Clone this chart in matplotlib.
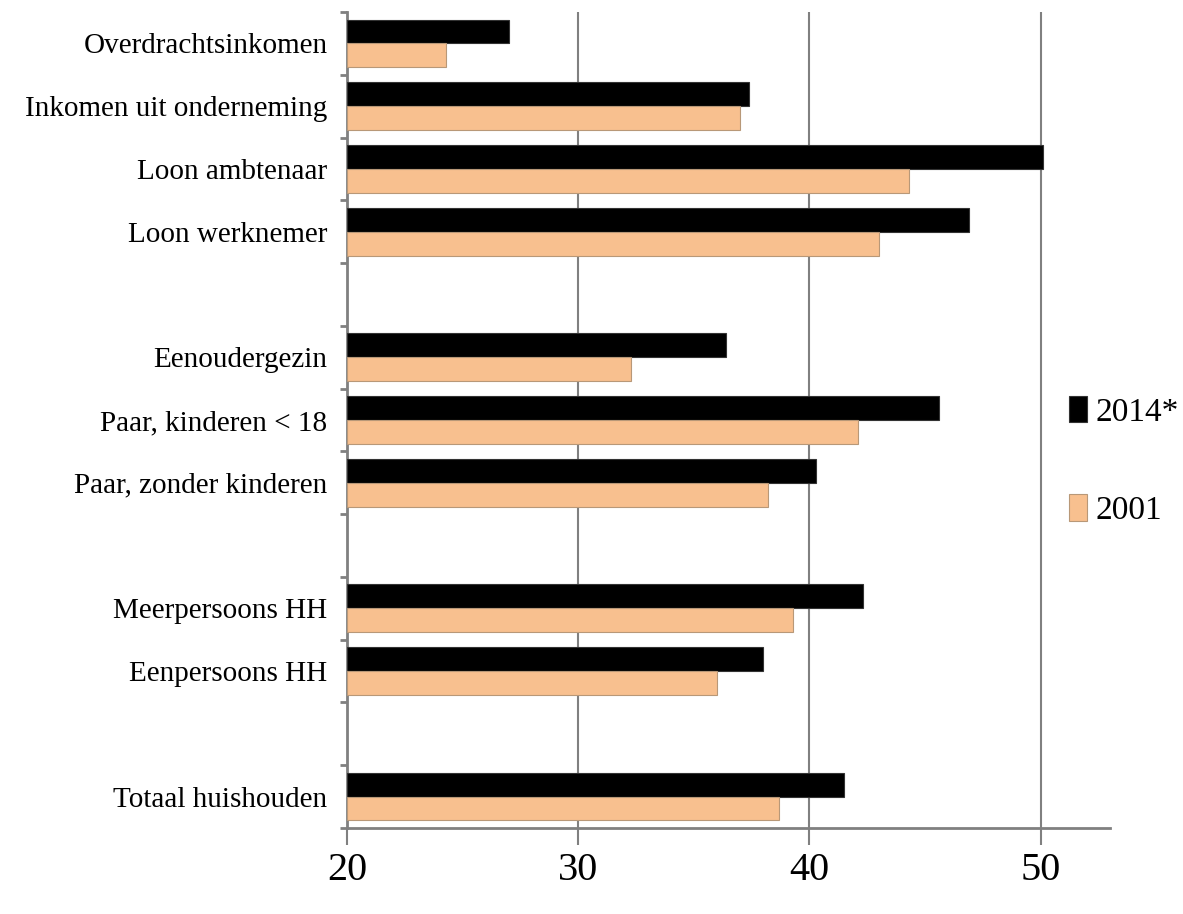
import matplotlib.pyplot as plt
import numpy as np

# %% Data (top to bottom, None = empty slot between groups)
categories = ["Overdrachtsinkomen", "Inkomen uit onderneming", "Loon ambtenaar", "Loon werknemer",
              None,
              "Eenoudergezin", "Paar, kinderen < 18", "Paar, zonder kinderen",
              None,
              "Meerpersoons HH", "Eenpersoons HH",
              None,
              "Totaal huishouden"]
val_2014 = [27.0, 37.4, 50.1, 46.9, None, 36.4, 45.6, 40.3, None, 42.3, 38.0, None, 41.5]
val_2001 = [24.3, 37.0, 44.3, 43.0, None, 32.3, 42.1, 38.2, None, 39.3, 36.0, None, 38.7]
xticks = [20, 30, 40, 50]

plt.rcParams["font.family"] = "Liberation Serif"

fig = plt.figure(figsize=(11.83, 9.14), dpi=100)
ax = fig.add_axes([0.2933, 0.0941, 0.645, 0.8928])

idx = [i for i, c in enumerate(categories) if c is not None]
pos = np.array(idx, dtype=float)
h = 0.38
ax.barh(pos - h / 2, [val_2014[i] - 20 for i in idx], height=h, left=20,
        color="black", edgecolor="#333333", linewidth=0.8, label="2014*", zorder=3)
ax.barh(pos + h / 2, [val_2001[i] - 20 for i in idx], height=h, left=20,
        color="#F8C08F", edgecolor="#B89878", linewidth=0.8, label="2001", zorder=3)

ax.set_xlim(20, 53)
ax.set_ylim(len(categories) - 0.5, -0.5)

# category labels at slot centres, tick marks at slot boundaries
ax.set_yticks(pos)
ax.set_yticklabels([categories[i] for i in idx], fontsize=21)
ax.set_yticks(np.arange(-0.5, len(categories)), minor=True)
ax.tick_params(axis="y", which="major", length=0, pad=14)
ax.tick_params(axis="y", which="minor", length=5, width=2, color="#808080")

ax.set_xticks(xticks)
ax.set_xticklabels([str(t) for t in xticks], fontsize=29)
ax.tick_params(axis="x", length=12, width=1.5, color="#808080", pad=5)

ax.grid(axis="x", color="#808080", linewidth=1.5, zorder=0)
for s in ["top", "right"]:
    ax.spines[s].set_visible(False)
for s in ["left", "bottom"]:
    ax.spines[s].set_color("#808080")
    ax.spines[s].set_linewidth(2)

fig.legend(loc="center left", bbox_to_anchor=(0.9036, 0.4956), frameon=False,
           fontsize=24, handlelength=0.54, handleheight=0.84, handletextpad=0.27,
           labelspacing=2.0, borderaxespad=0, borderpad=0)

fig.savefig("out.png", dpi=100)
